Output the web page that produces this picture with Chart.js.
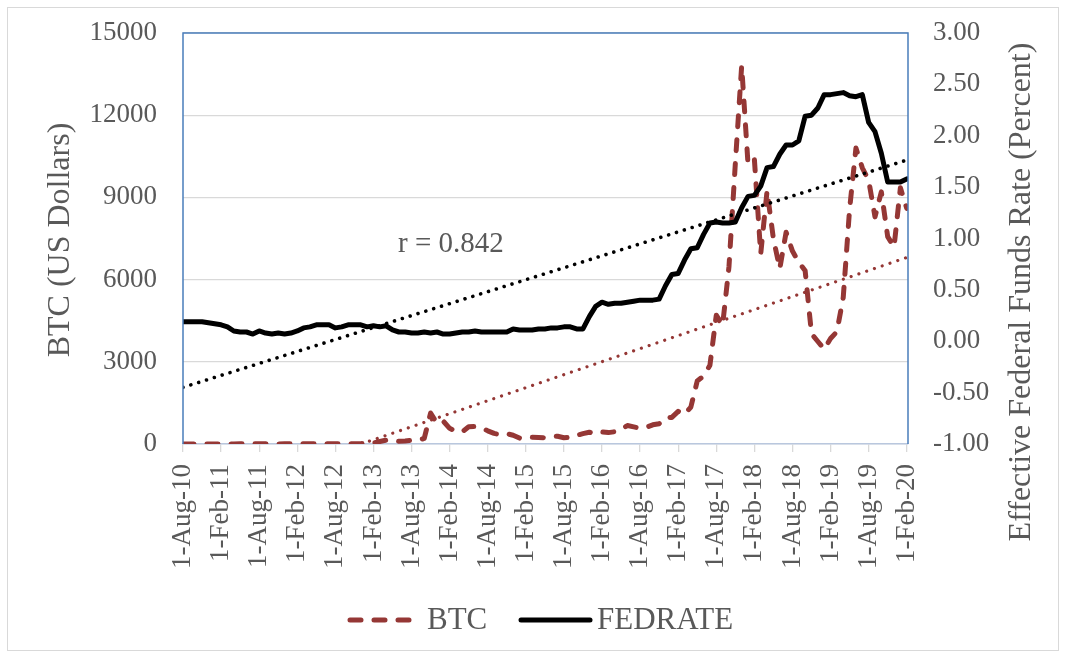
<!DOCTYPE html>
<html>
<head>
<meta charset="utf-8">
<script src="https://cdn.jsdelivr.net/npm/chart.js@4.4.1/dist/chart.umd.min.js"></script>
<style>
  html, body { margin: 0; padding: 0; background: #ffffff; }
  #wrap { position: relative; width: 1066px; height: 658px; }
</style>
</head>
<body>
<div id="wrap"><canvas id="c"></canvas></div>
<script>
// ---- DATA ----
const tickLabels = ['1-Aug-10','1-Feb-11','1-Aug-11','1-Feb-12','1-Aug-12','1-Feb-13','1-Aug-13','1-Feb-14','1-Aug-14','1-Feb-15',
                    '1-Aug-15','1-Feb-16','1-Aug-16','1-Feb-17','1-Aug-17','1-Feb-18','1-Aug-18','1-Feb-19','1-Aug-19','1-Feb-20'];
// BTC, US dollars, monthly (Aug 2010 .. Feb 2020)
const btc = [
  0.06, 0.06, 0.19, 0.21, 0.30,
  0.52, 0.86, 0.78, 3.5, 8.7, 16.1, 13.4, 8.2, 5.1, 3.25, 3.0, 4.7,
  5.5, 4.9, 4.9, 4.95, 5.2, 6.7, 9.35, 10.2, 12.4, 11.2, 12.6, 13.5,
  20.4, 33.4, 93, 139, 129, 97, 106, 135, 133, 204, 1130, 757,
  833, 573, 458, 447, 628, 640, 587, 481, 386, 338, 378, 320,
  217, 254, 244, 236, 230, 263, 284, 230, 236, 314, 378, 430,
  369, 437, 416, 448, 531, 673, 624, 575, 609, 700, 742, 963,
  970, 1190, 1080, 1350, 2300, 2480, 2875, 4700, 4340, 6470, 10230, 13800,
  10220, 10400, 6940, 9240, 7490, 6400, 7730, 7040, 6630, 6320, 4020, 3740,
  3460, 3850, 4100, 5350, 8570, 10800, 10080, 9630, 8290, 9200, 7570, 7190,
  9350, 8600
];
// Effective Federal Funds Rate, percent, monthly (Aug 2010 .. Feb 2020)
const fedrate = [
  0.19, 0.19, 0.19, 0.19, 0.18,
  0.17, 0.16, 0.14, 0.10, 0.09, 0.09, 0.07, 0.10, 0.08, 0.07, 0.08, 0.07,
  0.08, 0.10, 0.13, 0.14, 0.16, 0.16, 0.16, 0.13, 0.14, 0.16, 0.16, 0.16,
  0.14, 0.15, 0.14, 0.15, 0.11, 0.09, 0.09, 0.08, 0.08, 0.09, 0.08, 0.09,
  0.07, 0.07, 0.08, 0.09, 0.09, 0.10, 0.09, 0.09, 0.09, 0.09, 0.09, 0.12,
  0.11, 0.11, 0.11, 0.12, 0.12, 0.13, 0.13, 0.14, 0.14, 0.12, 0.12, 0.24,
  0.34, 0.38, 0.36, 0.37, 0.37, 0.38, 0.39, 0.40, 0.40, 0.40, 0.41, 0.54,
  0.65, 0.66, 0.79, 0.90, 0.91, 1.04, 1.15, 1.16, 1.15, 1.15, 1.16, 1.30,
  1.41, 1.42, 1.51, 1.69, 1.70, 1.82, 1.91, 1.91, 1.95, 2.19, 2.20, 2.27,
  2.40, 2.40, 2.41, 2.42, 2.39, 2.38, 2.40, 2.13, 2.04, 1.83, 1.55, 1.55,
  1.55, 1.58
];
const leftTicks = [0, 3000, 6000, 9000, 12000, 15000];
const rightTicks = [-1.00, -0.50, 0.00, 0.50, 1.00, 1.50, 2.00, 2.50, 3.00];
const corrText = 'r = 0.842';

// ---- helpers ----
const FONT = '"Liberation Serif", "Times New Roman", serif';
const GREY = '#595959';
const RED = '#953735';
function toPoints(arr) { return arr.map((v, i) => ({ x: i, y: v })); }
function trend(arr) {
  const n = arr.length;
  let sx = 0, sy = 0, sxx = 0, sxy = 0;
  arr.forEach((v, i) => { sx += i; sy += v; sxx += i * i; sxy += i * v; });
  const b = (n * sxy - sx * sy) / (n * sxx - sx * sx);
  const a = (sy - b * sx) / n;
  return [{ x: 0, y: a }, { x: n - 1, y: a + b * (n - 1) }];
}
function noVPad(axis, w) { axis.width = w; axis.paddingTop = 0; axis.paddingBottom = 0; }

const decor = {
  id: 'decor',
  beforeDraw(chart) {
    const ctx = chart.ctx;
    ctx.save();
    ctx.fillStyle = '#ffffff';
    ctx.fillRect(0, 0, chart.width, chart.height);
    ctx.strokeStyle = '#d9d9d9';
    ctx.lineWidth = 1;
    ctx.strokeRect(7.5, 7.5, chart.width - 15, chart.height - 15);
    ctx.restore();
  },
  afterDraw(chart) {
    const ctx = chart.ctx;
    const a = chart.chartArea;
    ctx.save();
    // plot border (left, top, right)
    ctx.strokeStyle = '#4a7ebb';
    ctx.lineWidth = 1.5;
    ctx.beginPath();
    ctx.moveTo(a.left, a.bottom);
    ctx.lineTo(a.left, a.top);
    ctx.lineTo(a.right, a.top);
    ctx.lineTo(a.right, a.bottom);
    ctx.stroke();
    // axis titles
    ctx.fillStyle = GREY;
    ctx.font = '32px ' + FONT;
    ctx.textAlign = 'center';
    ctx.textBaseline = 'middle';
    ctx.save();
    ctx.translate(61, 240);
    ctx.rotate(-Math.PI / 2);
    ctx.fillText('BTC (US Dollars)', 0, 0);
    ctx.restore();
    ctx.save();
    ctx.translate(1022, 292);
    ctx.rotate(-Math.PI / 2);
    ctx.fillText('Effective Federal Funds Rate (Percent)', 0, 0);
    ctx.restore();
    // correlation text
    ctx.font = '29px ' + FONT;
    ctx.textAlign = 'left';
    ctx.textBaseline = 'alphabetic';
    ctx.fillText(corrText, 398, 252);
    // legend
    const ly = 620;
    ctx.lineCap = 'round';
    ctx.lineWidth = 5;
    ctx.strokeStyle = RED;
    ctx.setLineDash([11, 13]);
    ctx.beginPath(); ctx.moveTo(350, ly); ctx.lineTo(412, ly); ctx.stroke();
    ctx.setLineDash([]);
    ctx.strokeStyle = '#000000';
    ctx.beginPath(); ctx.moveTo(521, ly); ctx.lineTo(590, ly); ctx.stroke();
    ctx.font = '31px ' + FONT;
    ctx.fillStyle = GREY;
    ctx.textBaseline = 'middle';
    ctx.fillText('BTC', 427, ly + 1);
    ctx.fillText('FEDRATE', 597, ly + 1);
    ctx.restore();
  }
};

new Chart(document.getElementById('c'), {
  type: 'line',
  data: {
    datasets: [
      { label: 'BTC', data: toPoints(btc), yAxisID: 'y', borderColor: RED, borderWidth: 5,
        borderDash: [11, 13], borderCapStyle: 'round', borderJoinStyle: 'round', pointRadius: 0, tension: 0, order: 4 },
      { label: 'BTC trend', data: trend(btc), yAxisID: 'y', borderColor: RED, borderWidth: 3.2,
        borderDash: [0.01, 8.2], borderCapStyle: 'round', pointRadius: 0, order: 3 },
      { label: 'FEDRATE', data: toPoints(fedrate), yAxisID: 'y1', borderColor: '#000000', borderWidth: 5,
        borderCapStyle: 'round', borderJoinStyle: 'round', pointRadius: 0, tension: 0, order: 2 },
      { label: 'FEDRATE trend', data: trend(fedrate), yAxisID: 'y1', borderColor: '#000000', borderWidth: 3.6,
        borderDash: [0.01, 8.2], borderCapStyle: 'round', pointRadius: 0, order: 1 }
    ]
  },
  options: {
    responsive: true,
    maintainAspectRatio: false,
    animation: false,
    events: [],
    layout: { padding: { left: 0, right: 0, top: 33, bottom: 0 } },
    plugins: { legend: { display: false }, tooltip: { enabled: false } },
    scales: {
      x: {
        type: 'linear', min: 0, max: 114.2,
        afterBuildTicks(axis) { axis.ticks = tickLabels.map((_, i) => ({ value: i * 6 })); },
        afterFit(axis) { axis.height = 214; },
        ticks: { autoSkip: false, minRotation: 90, maxRotation: 90, padding: 12, color: GREY,
                 font: { family: FONT, size: 27 }, callback: (v) => tickLabels[Math.round(v / 6)] },
        grid: { drawOnChartArea: false, drawTicks: true, tickLength: 8, color: '#d9d9d9', lineWidth: 1.3 },
        border: { display: true, color: '#b9c7de', width: 1.5 }
      },
      y: {
        position: 'left', min: 0, max: 15000,
        afterBuildTicks(axis) { axis.ticks = leftTicks.map(v => ({ value: v })); },
        afterFit(axis) { noVPad(axis, 183); },
        ticks: { padding: 26, color: GREY, font: { family: FONT, size: 27 }, callback: (v) => String(v) },
        grid: { color: '#d9d9d9', lineWidth: 1.3, drawTicks: false },
        border: { display: false }
      },
      y1: {
        position: 'right', min: -1, max: 3,
        afterBuildTicks(axis) { axis.ticks = rightTicks.map(v => ({ value: v })); },
        afterFit(axis) { noVPad(axis, 158); },
        ticks: { padding: 25, color: GREY, font: { family: FONT, size: 27 }, callback: (v) => Number(v).toFixed(2) },
        grid: { display: false, drawTicks: false },
        border: { display: false }
      }
    }
  },
  plugins: [decor]
});
</script>
</body>
</html>
